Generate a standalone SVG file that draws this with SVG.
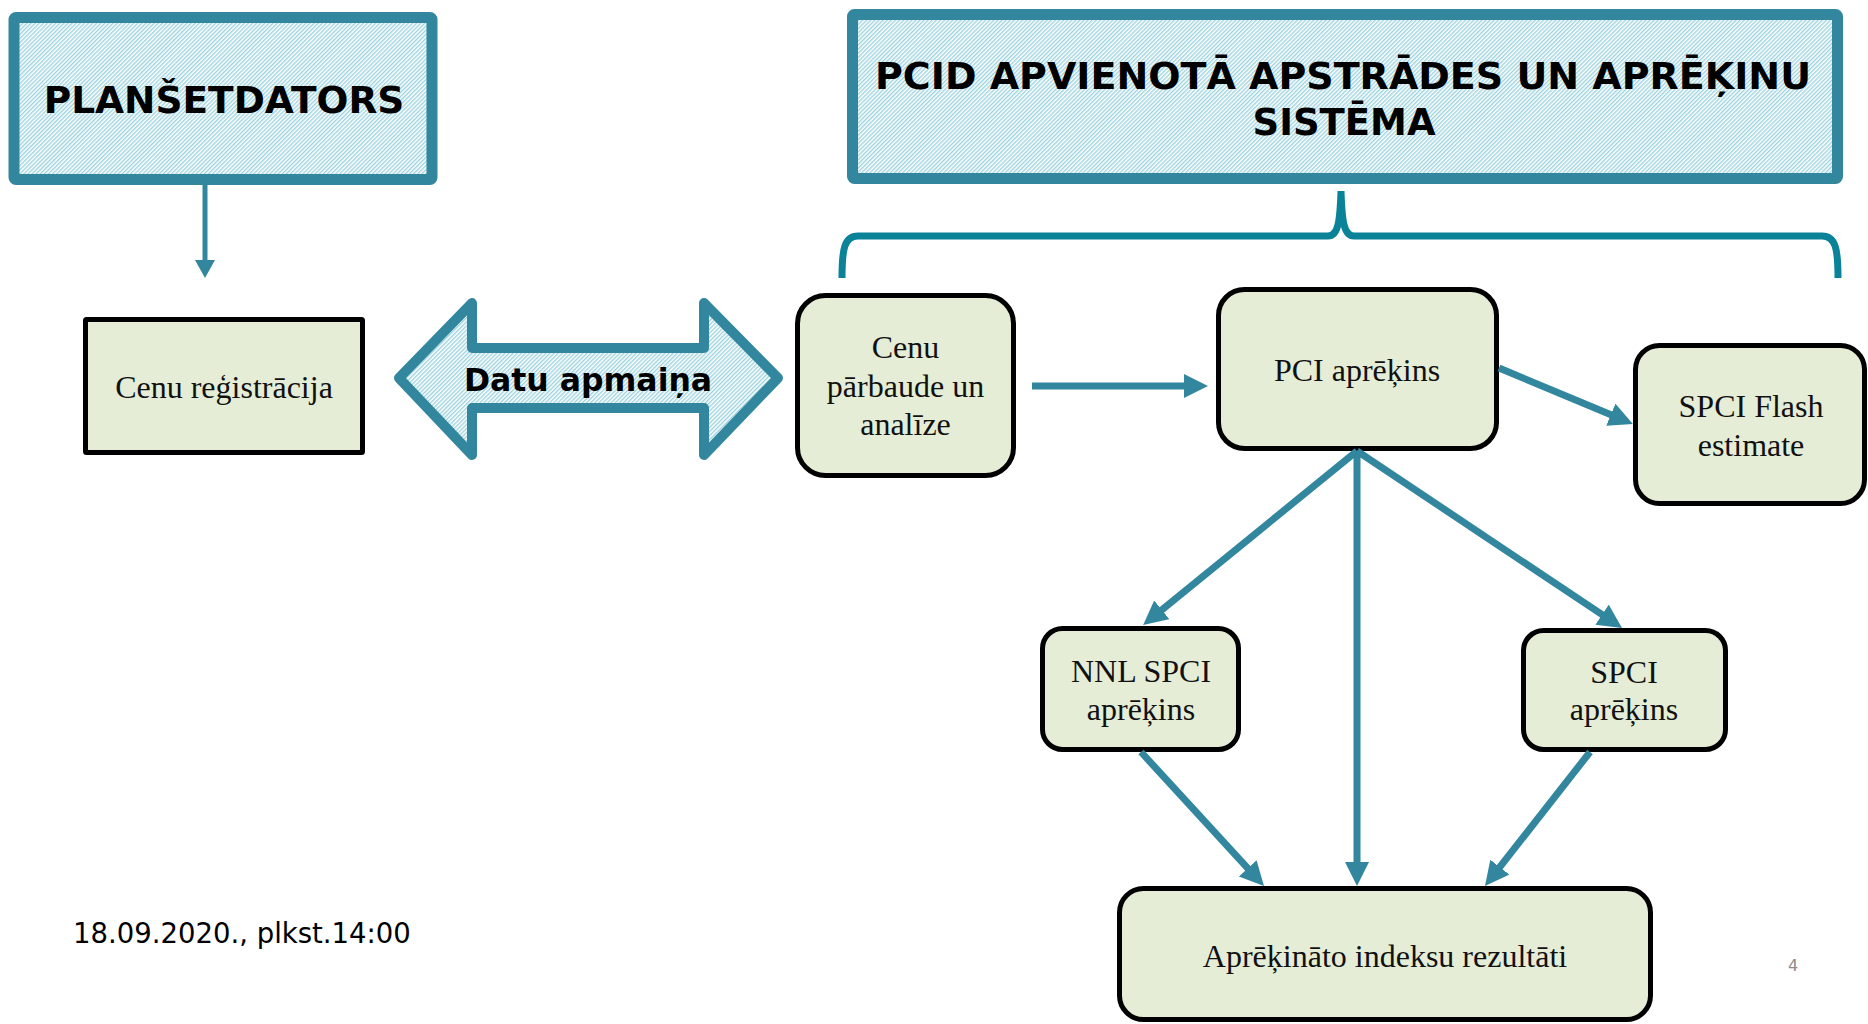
<svg xmlns="http://www.w3.org/2000/svg" width="1868" height="1024" viewBox="0 0 1868 1024">
<defs>
<pattern id="hatch" width="2.9" height="10" patternUnits="userSpaceOnUse" patternTransform="rotate(45)">
<rect width="2.9" height="10" fill="#ffffff"/>
<rect width="1.4" height="10" fill="#9fd3de"/>
</pattern>
<marker id="ah" markerUnits="userSpaceOnUse" markerWidth="26" markerHeight="26" refX="10" refY="12" orient="auto">
<path d="M0,0 L24,12 L0,24 z" fill="#32869e"/>
</marker>
<marker id="ahs" markerUnits="userSpaceOnUse" markerWidth="22" markerHeight="22" refX="6" refY="10" orient="auto">
<path d="M0,0 L18,10 L0,20 z" fill="#32869e"/>
</marker>
<style>
.hdr{fill:url(#hatch);stroke:#32869e;stroke-width:11;stroke-linejoin:round}
.hdrt{font-family:"DejaVu Sans",Verdana,sans-serif;font-weight:bold;fill:#000;text-anchor:middle}
.node{fill:#e5edd7;stroke:#000;stroke-width:5}
.nt{font-family:"Liberation Serif","Times New Roman",serif;font-size:32px;fill:#111;text-anchor:middle}
.conn{fill:none;stroke:#32869e;stroke-width:7;marker-end:url(#ah)}
</style>
</defs>

<g id="planset">
<rect class="hdr" x="14" y="17.5" width="418" height="162" rx="2"/>
<text class="hdrt" x="224" y="113" font-size="37.5">PLANŠETDATORS</text>
</g>

<g id="pcid">
<rect class="hdr" x="852.5" y="14.5" width="985" height="164" rx="2"/>
<text class="hdrt" x="1343" y="89" font-size="37" textLength="936" lengthAdjust="spacingAndGlyphs">PCID APVIENOTĀ APSTRĀDES UN APRĒĶINU</text>
<text class="hdrt" x="1344" y="135" font-size="37">SISTĒMA</text>
</g>

<g id="bracket">
<path d="M842,278 C842,250 844,236 858,236 L1328,236 C1338,236 1340,222 1341,191 C1342,222 1344,236 1354,236 L1822,236 C1836,236 1838,250 1838,278" fill="none" stroke="#0a8399" stroke-width="7"/>
</g>

<g id="cenu-reg">
<rect class="node" x="85.5" y="319.5" width="277" height="133" rx="1"/>
<text class="nt" x="224" y="398">Cenu reģistrācija</text>
</g>

<g id="datu-apmaina">
<polygon points="399,378 472,303 472,348 704,348 704,303 778,378 704,455 704,408 472,408 472,455" fill="url(#hatch)" stroke="#32869e" stroke-width="10" stroke-linejoin="round"/>
<text class="hdrt" x="588" y="391" font-size="31.5">Datu apmaiņa</text>
</g>

<g id="cenu-parb">
<rect class="node" x="797.5" y="295.5" width="216" height="180" rx="28"/>
<text class="nt" x="905.5" y="358">Cenu</text>
<text class="nt" x="905.5" y="397">pārbaude un</text>
<text class="nt" x="905.5" y="435">analīze</text>
</g>

<g id="pci">
<rect class="node" x="1218.5" y="289.5" width="278" height="159" rx="26"/>
<text class="nt" x="1357" y="381">PCI aprēķins</text>
</g>

<g id="spci-flash">
<rect class="node" x="1635.5" y="345.5" width="229" height="158" rx="24"/>
<text class="nt" x="1751" y="417">SPCI Flash</text>
<text class="nt" x="1751" y="456">estimate</text>
</g>

<g id="nnl">
<rect class="node" x="1042.5" y="628.5" width="196" height="121" rx="20"/>
<text class="nt" x="1141" y="682">NNL SPCI</text>
<text class="nt" x="1141" y="720">aprēķins</text>
</g>

<g id="spci">
<rect class="node" x="1523.5" y="630.5" width="202" height="119" rx="20"/>
<text class="nt" x="1624" y="683">SPCI</text>
<text class="nt" x="1624" y="720">aprēķins</text>
</g>

<g id="rezultati">
<rect class="node" x="1119.5" y="888.5" width="531" height="131" rx="24"/>
<text class="nt" x="1385" y="967">Aprēķināto indeksu rezultāti</text>
</g>

<g id="connectors">
<path d="M205,182 L205,266" fill="none" stroke="#32869e" stroke-width="5" marker-end="url(#ahs)"/>
<path class="conn" d="M1032,386 L1194,386"/>
<path class="conn" d="M1499,368 L1620,418.6"/>
<path class="conn" d="M1357,451 L1154,616.2"/>
<path class="conn" d="M1357,451 L1357,872"/>
<path class="conn" d="M1357,451 L1610.4,620.2"/>
<path class="conn" d="M1141,752 L1254.5,875.7"/>
<path class="conn" d="M1590,752 L1493.6,875"/>
</g>

<g id="footer">
<text x="73" y="943" font-family="DejaVu Sans, Verdana, sans-serif" font-size="27.5" fill="#000">18.09.2020., plkst.14:00</text>
<text x="1793" y="971" font-family="DejaVu Sans, Verdana, sans-serif" font-size="16" fill="#8c8c8c" text-anchor="middle">4</text>
</g>
</svg>
